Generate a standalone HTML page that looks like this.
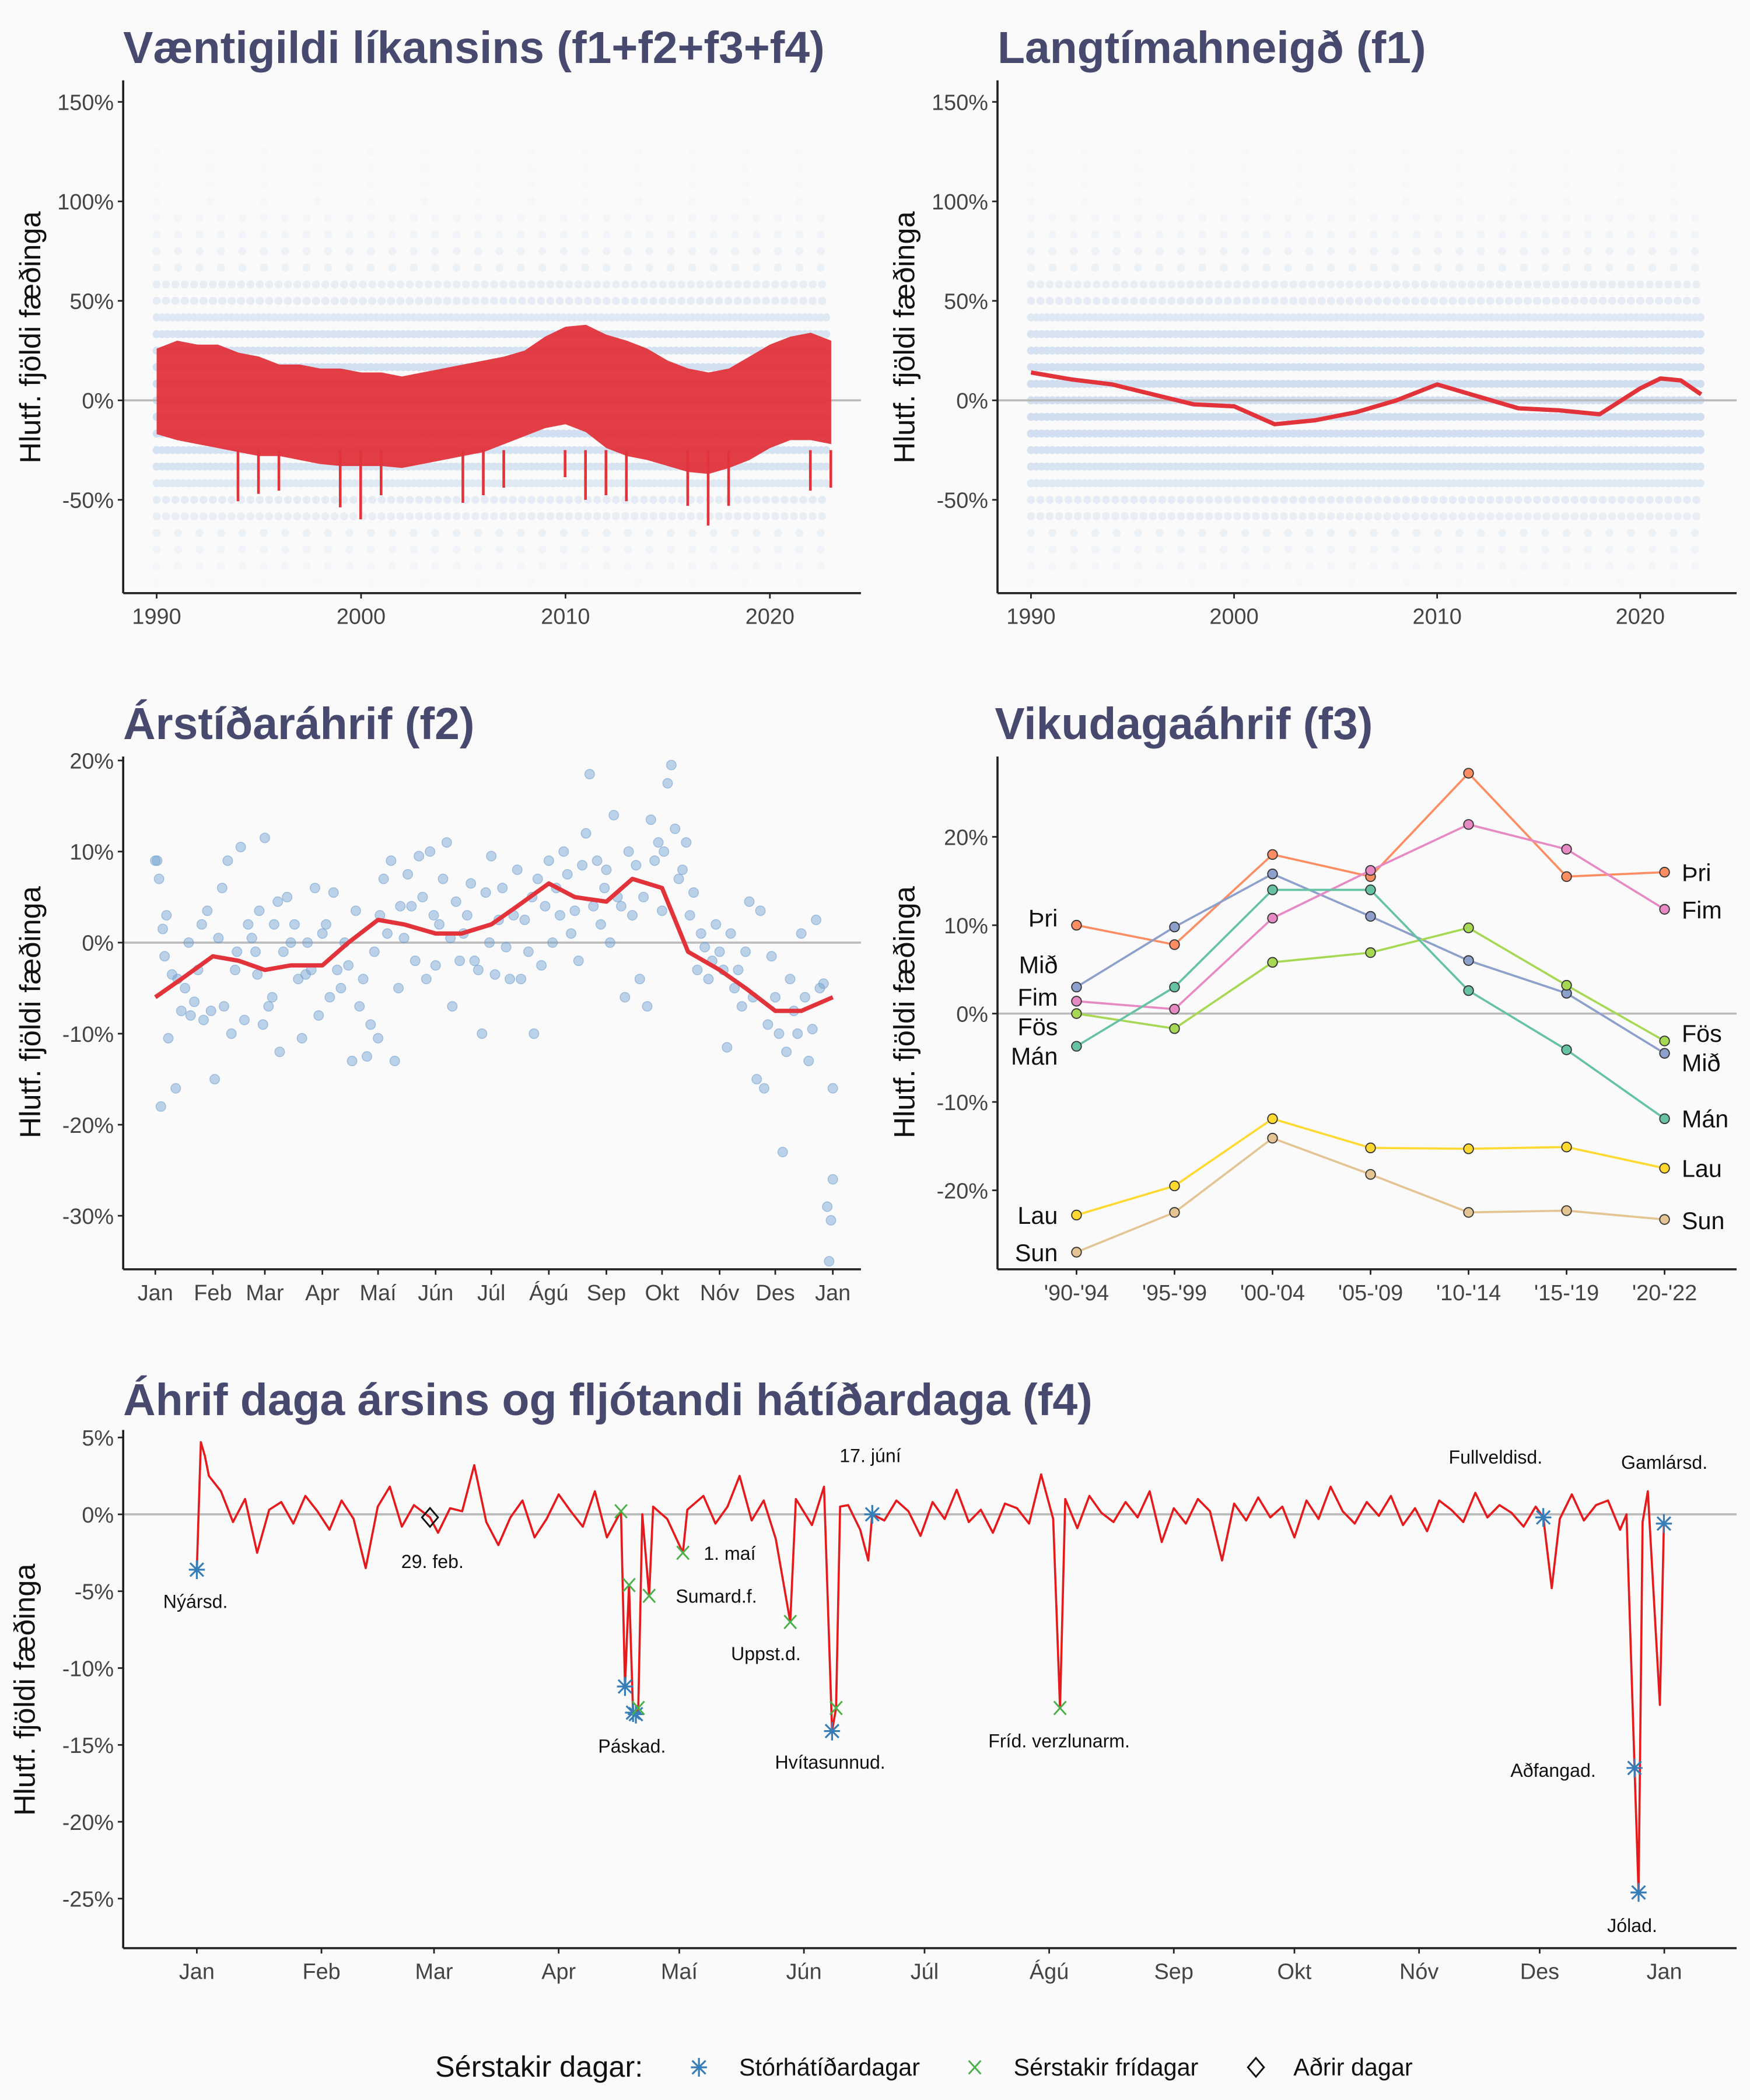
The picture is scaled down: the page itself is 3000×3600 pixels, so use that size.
<!DOCTYPE html>
<html><head><meta charset="utf-8"><style>
html,body{margin:0;padding:0;background:#fafafa}
svg{display:block}
text{font-family:"Liberation Sans",sans-serif}
.tt{font-weight:bold;fill:#474a6e;font-size:33.5px}
.tk{font-size:16.5px;fill:#444}
.yt{font-size:22px;fill:#111}
.an{font-size:14px;fill:#111}
</style></head><body>
<svg id="c" width="3000" height="3600" viewBox="0 0 1307 1568.4" preserveAspectRatio="none" xmlns="http://www.w3.org/2000/svg">
<rect width="1307" height="1569" fill="#fafafa"/>
<g id="root"></g>
</svg>
<script>
// ---------- data ----------
const dotLevels=[-91.7,-83.3,-75,-66.7,-58.3,-50,-41.7,-33.3,-25,-16.7,-8.3,0,8.3,16.7,25,33.3,41.7,50,58.3,66.7,75,83.3,91.7,100,108.3,116.7,125,133.3,141.7,150,158.3];
const dotDensity=[0.02,0.04,0.06,0.08,0.1,0.13,0.16,0.2,0.22,0.24,0.25,0.25,0.25,0.24,0.22,0.2,0.16,0.13,0.1,0.08,0.07,0.05,0.04,0.03,0.02,0.02,0.015,0.01,0.01,0.01,0.005];
const bandYears=[1990,1991,1992,1993,1994,1995,1996,1997,1998,1999,2000,2001,2002,2003,2004,2005,2006,2007,2008,2009,2010,2011,2012,2013,2014,2015,2016,2017,2018,2019,2020,2021,2022,2023];
const bandUpper=[26,30,28,28,24,22,18,18,16,16,14,14,12,14,16,18,20,22,25,32,37,38,33,30,26,20,16,14,16,22,28,32,34,30];
const bandLower=[-17,-20,-22,-24,-26,-28,-28,-30,-32,-33,-33,-33,-34,-32,-30,-28,-26,-22,-18,-14,-12,-16,-24,-28,-30,-33,-36,-37,-34,-30,-24,-20,-20,-22];
const spikeYears=[1993,1994,1995,1998,1999,2000,2004,2005,2006,2009,2010,2011,2012,2015,2016,2017,2021,2022];
const spikeValues=[-50.7,-47,-45.4,-53.8,-59.8,-47.7,-51.5,-47.7,-43.9,-38.6,-50,-47.7,-50.7,-53,-62.9,-53,-45.4,-43.9];
const trendYears=[1990,1992,1994,1996,1998,2000,2002,2004,2006,2008,2010,2012,2014,2016,2018,2020,2021,2022,2023];
const trendValues=[14,10.5,8,3,-2,-3,-12,-10,-6,0,8,2,-4,-5,-7,6,11,10,3];
const seasonDays=[1,15,32,46,60,74,91,105,121,135,152,166,182,196,213,227,244,258,274,288,305,319,335,349,366];
const seasonValues=[-6,-4,-1.5,-2,-3,-2.5,-2.5,0,2.5,2,1,1,2,4,6.5,5,4.5,7,6,-1,-3,-5,-7.5,-7.5,-6];
const seasonPoints=[[1,9],[2,9],[3,7],[4,-18],[5,1.5],[6,-1.5],[7,3],[8,-10.5],[10,-3.5],[12,-16],[13,-4],[15,-7.5],[17,-5],[19,0],[20,-8],[22,-6.5],[24,-3],[26,2],[27,-8.5],[29,3.5],[31,-7.5],
[33,-15],[35,0.5],[37,6],[38,-7],[40,9],[42,-10],[44,-3],[45,-1],[47,10.5],[49,-8.5],[51,2],[53,0.5],[55,-1],[56,-3.5],[57,3.5],[59,-9],
[60,11.5],[62,-7],[64,-6],[65,2],[67,4.5],[68,-12],[70,-1],[72,5],[74,0],[76,2],[78,-4],[80,-10.5],[82,-3.5],[83,0],[85,-3],[87,6],[89,-8],
[91,1],[93,2],[95,-6],[97,5.5],[99,-3],[101,-5],[103,0],[105,-2.5],[107,-13],[109,3.5],[111,-7],[113,-4],[115,-12.5],[117,-9],[119,-1],
[121,-10.5],[122,3],[124,7],[126,1],[128,9],[130,-13],[132,-5],[133,4],[135,0.5],[137,7.5],[139,4],[141,-2],[143,9.5],[145,5],[147,-4],[149,10],[151,3],
[152,-2.5],[154,2],[156,7],[158,11],[160,0.5],[161,-7],[163,4.5],[165,-2],[167,1],[169,3],[171,6.5],[173,-2],[175,-3],[177,-10],[179,5.5],[181,0],
[182,9.5],[184,-3.5],[186,2.5],[188,6],[190,-0.5],[192,-4],[194,3],[196,8],[198,-4],[200,2.5],[202,-1],[204,5],[205,-10],[207,7],[209,-2.5],[211,4],
[213,9],[215,0],[217,6],[219,3],[221,10],[223,7.5],[225,1],[227,3.5],[229,-2],[231,8.5],[233,12],[235,18.5],[237,4],[239,9],[241,2],[243,6],
[244,8],[246,0],[248,14],[250,5],[252,4],[254,-6],[256,10],[258,3],[260,8.5],[262,-4],[264,5],[266,-7],[268,13.5],[270,9],[272,11],[274,3.5],
[275,10],[277,17.5],[279,19.5],[281,12.5],[283,7],[285,8],[287,11],[289,3],[291,5.5],[293,-3],[295,1],[297,-0.5],[299,-4],[301,-2],[303,2],
[305,-1],[307,-3],[309,-11.5],[311,1],[313,-5],[315,-3],[317,-7],[319,-1],[321,4.5],[323,-6],[325,-15],[327,3.5],[329,-16],[331,-9],[333,-1.5],
[335,-6],[337,-10],[339,-23],[341,-12],[343,-4],[345,-7.5],[347,-10],[349,1],[351,-6],[353,-13],[355,-9.5],[357,2.5],[359,-5],[361,-4.5],[363,-29],[364,-35],[365,-30.5],[366,-26],[366,-16]];
const weekCats=["'90-'94","'95-'99","'00-'04","'05-'09","'10-'14","'15-'19","'20-'22"];
const weekNames=["Þri","Mið","Fim","Fös","Mán","Lau","Sun"];
const weekColors=["#fc8d62","#8da0cb","#e78ac3","#a6d854","#66c2a5","#ffd92f","#e5c494"];
const weekThu=[10,7.8,18,15.5,27.2,15.5,16];
const weekWed=[3,9.8,15.8,11,6,2.3,-4.5];
const weekFri=[1.4,0.5,10.8,16.2,21.4,18.6,11.8];
const weekSat=[0,-1.7,5.8,6.9,9.7,3.2,-3.1];
const weekMon=[-3.7,3,14,14,2.6,-4.1,-11.9];
const weekLau=[-22.8,-19.5,-11.9,-15.2,-15.3,-15.1,-17.5];
const weekSun=[-27,-22.5,-14.1,-18.2,-22.5,-22.3,-23.3];
const weekSeries=[weekThu,weekWed,weekFri,weekSat,weekMon,weekLau,weekSun];
const weekLeftLabelY=[686,721,745,767,789,908,936];
const weekRightLabelY=[652,794,680,772,836,873,912];
const dayBaseline=[0.5,2.8,1.5,-0.5,1,-2.5,0.3,0.8,-0.6,1.2,0.2,-1,0.9,-0.3,-3.5,0.5,1.8,-0.8,0.6,1.5,-1.2,0.4,0.2,3.2,-0.5,-2,-0.2,0.9,-1.5,-0.3,1.3,0.2,-0.8,1.5,-1.5,0.9,0.4,-0.6,1.1,-0.3,0.8,-1.3,1.2,-0.6,0.5,2.5,-0.4,0.9,-1.6,1.1,0.3,-0.7,1.8,-0.2,0.6,-1,1.3,-0.4,0.9,0.2,-1.4,0.8,-0.3,1.6,-0.5,0.3,-1.2,0.7,0.4,-0.6,2.6,-0.3,0.5,-0.9,1.2,0.1,-0.5,0.8,-0.2,1.5,-1.8,0.4,-0.6,1,0.2,-3,0.7,-0.4,1.1,-0.2,0.5,-1.5,0.9,-0.3,1.8,0.2,-0.6,0.8,-0.1,1.2,-0.7,0.4,-1.1,0.9,0.3,-0.5,1.4,-0.2,0.6,0.1,-0.8,0.5,0.7,-0.3,1.3,-0.4,0.6,0.9,-1,0.3,0.5,1.1];
const specialDays=[1,2,3,4,59,106.5,107.5,108.5,109.5,110.2,110.8,111.8,113.5,114.5,121.9,123,148.6,150,159,160,161,168,169,215.7,217,335.9,338,356.6,358.6,359.6,360.6,361.9,364.9,365.9];
const specialValues=[-3.6,4.7,3.8,2.5,-0.2,0.2,-11.2,-4.6,-12.9,-13,-12.6,0,-5.3,0.5,-2.5,0.3,-7,1,-14.1,-12.6,0.5,-3,0,-12.6,1,-0.2,-4.8,0,-16.5,-24.6,-0.5,1.5,-12.4,-0.6];
const starDays=[1,107.5,109.5,110.2,159,169,335.9,358.6,359.6,365.9];
const starValues=[-3.6,-11.2,-12.9,-13,-14.1,0,-0.2,-16.5,-24.6,-0.6];
const crossDays=[106.5,108.5,110.8,113.5,121.9,148.6,160,215.7];
const crossValues=[0.2,-4.6,-12.6,-5.3,-2.5,-7,-12.6,-12.6];
const diamondDays=[59];
const diamondValues=[-0.2];
const noteText=["Nýársd.","29. feb.","1. maí","Sumard.f.","Uppst.d.","Páskad.","Hvítasunnud.","17. júní","Fríd. verzlunarm.","Fullveldisd.","Gamlársd.","Aðfangad.","Jólad."];
const noteX=[146,323,545,535,572,472,620,650,791,1117,1243,1160,1219];
const noteY=[1201,1171,1165,1197,1240,1309,1321,1092,1305,1093,1097,1327,1443];
const monthLabels=["Jan","Feb","Mar","Apr","Maí","Jún","Júl","Ágú","Sep","Okt","Nóv","Des","Jan"];
const monthStart=[1,32,60,91,121,152,182,213,244,274,305,335,366];

// ---------- helpers ----------
const NS="http://www.w3.org/2000/svg";
const root=document.getElementById('root');
function mk(tag,attrs,parent){const e=document.createElementNS(NS,tag);for(const k in attrs)e.setAttribute(k,attrs[k]);(parent||root).appendChild(e);return e;}
function txt(s,x,y,cls,anchor,parent){const t=mk('text',{x:x,y:y,class:cls,'text-anchor':anchor||'start'},parent);t.textContent=s;return t;}
function lin(d0,d1,r0,r1){return v=>r0+(v-d0)/(d1-d0)*(r1-r0);}
function axes(g,x0,x1,y0,y1){
  const a=mk('line',{x1:x0,y1:y0,x2:x0,y2:y1,stroke:'#222','stroke-width':1.6},g);
  
  
  const b=mk('line',{x1:x0,y1:y1,x2:x1,y2:y1,stroke:'#222','stroke-width':1.6},g);
  
  
}
function yTick(g,x0,y,label){mk('line',{x1:x0-4,y1:y,x2:x0,y2:y,stroke:'#222','stroke-width':1.2},g);txt(label,x0-7,y+6,'tk','end',g);}
function xTick(g,x,y1,label){mk('line',{x1:x,y1:y1,x2:x,y2:y1+4,stroke:'#222','stroke-width':1.2},g);txt(label,x,y1+23,'tk','middle',g);}
function zero(g,x0,x1,y){const z=mk('line',{x1:x0,y1:y,x2:x1,y2:y,stroke:'#bbb','stroke-width':1.6},g);
  
  }
function yTitle(g,x,y,s){const t=txt(s,0,0,'yt','middle',g);t.setAttribute('transform',`translate(${x},${y}) rotate(-90)`);
  
  }
function title(g,s,x,y){const t=txt(s,x,y,'tt','start',g);
  
  }
function pct(v){return v+'%';}

// ---------- panels 1 & 2 ----------
function yearPanel(name,x0,x1,yr1990x,yr2020x,withBand){
  const g=mk('g',{});
  
  
  const X=lin(1990,2020,yr1990x,yr2020x), Y=lin(0,50,299,224.7);
  const dots=mk('g',{},g);
  
  
  dotLevels.forEach((lv,i)=>{
    const d=dotDensity[i];
    const gap=d>0.15?4:d>0.08?7:d>0.03?16:40;
    const l=mk('line',{x1:X(1990),x2:X(2023),y1:Y(lv),y2:Y(lv),stroke:'#7aa6dc','stroke-opacity':Math.min(0.6,d*1.3),'stroke-width':6,'stroke-linecap':'round','stroke-dasharray':'0 '+gap},dots);
    
    
  });
  zero(g,x0,x1,Y(0));
  if(withBand){
    let pts=bandYears.map((y,i)=>X(y)+','+Y(bandUpper[i]));
    pts=pts.concat(bandYears.slice().reverse().map((y,i)=>X(y)+','+Y(bandLower[bandYears.length-1-i])));
    const p=mk('polygon',{points:pts.join(' '),fill:'#e2333b','fill-opacity':0.95},g);
    
    
    spikeYears.forEach((y,i)=>{
      const s=mk('line',{x1:X(y+0.98),x2:X(y+0.98),y1:Y(-25),y2:Y(spikeValues[i]),stroke:'#e2333b','stroke-width':2},g);
      
      
    });
  } else {
    const d=trendYears.map((y,i)=>(i?'L':'M')+X(y)+','+Y(trendValues[i])).join(' ');
    const p=mk('path',{d:d,fill:'none',stroke:'#e2333b','stroke-width':3.2,'stroke-linejoin':'round'},g);
    
    
  }
  axes(g,x0,x1,60,443);
  [150,100,50,0,-50].forEach(v=>yTick(g,x0,Y(v),pct(v)));
  [1990,2000,2010,2020].forEach(y=>xTick(g,X(y),443,y));
  yTitle(g,x0-62,252,'Hlutf. fjöldi fæðinga');
}
yearPanel('panel-total',92,643,117,575,true);
title(root,'Væntigildi líkansins (f1+f2+f3+f4)',92,47);
yearPanel('panel-trend',745,1297,770,1225,false);
title(root,'Langtímahneigð (f1)',745,47);

// ---------- panel 3 ----------
(function(){
  const g=mk('g',{});
  
  
  const X=lin(1,366,116,622), Y=lin(0,10,704,636);
  zero(g,92,643,Y(0));
  seasonPoints.forEach(p=>{
    const c=mk('circle',{cx:X(p[0]),cy:Y(p[1]),r:3.6,fill:'#6f9fd0','fill-opacity':0.45,stroke:'#6f9fd0','stroke-opacity':0.6,'stroke-width':0.6},g);
    
    
  });
  const d=seasonDays.map((x,i)=>(i?'L':'M')+X(x)+','+Y(seasonValues[i])).join(' ');
  const p=mk('path',{d:d,fill:'none',stroke:'#e2333b','stroke-width':3.2,'stroke-linejoin':'round'},g);
  
  
  axes(g,92,643,565,948);
  [20,10,0,-10,-20,-30].forEach(v=>yTick(g,92,Y(v),pct(v)));
  monthStart.forEach((m,i)=>xTick(g,X(m),948,monthLabels[i]));
  yTitle(g,30,756,'Hlutf. fjöldi fæðinga');
  title(root,'Árstíðaráhrif (f2)',92,552);
})();

// ---------- panel 4 ----------
(function(){
  const g=mk('g',{});
  
  
  const X=i=>804+i*73.2, Y=lin(0,10,757,691);
  zero(g,745,1297,Y(0));
  weekSeries.forEach((s,k)=>{
    const d=s.map((v,i)=>(i?'L':'M')+X(i)+','+Y(v)).join(' ');
    const p=mk('path',{d:d,fill:'none',stroke:weekColors[k],'stroke-width':1.6},g);
    
    
    s.forEach((v,i)=>{
      const c=mk('circle',{cx:X(i),cy:Y(v),r:3.6,fill:weekColors[k],stroke:'#333','stroke-width':0.8},g);
      
      
    });
    txt(weekNames[k],790,weekLeftLabelY[k]+6,'yt','end',g).setAttribute('style','font-size:18px');
    txt(weekNames[k],1256,weekRightLabelY[k]+6,'yt','start',g).setAttribute('style','font-size:18px');
  });
  axes(g,745,1297,565,948);
  [20,10,0,-10,-20].forEach(v=>yTick(g,745,Y(v),pct(v)));
  weekCats.forEach((c,i)=>xTick(g,X(i),948,c));
  yTitle(g,683,756,'Hlutf. fjöldi fæðinga');
  title(root,'Vikudagaáhrif (f3)',743,552);
})();

// ---------- panel 5 ----------
(function(){
  const g=mk('g',{});
  
  
  const X=lin(1,366,147,1243), Y=lin(0,5,1131,1073.6);
  zero(g,92,1297,Y(0));
  let nodes=[];
  dayBaseline.forEach((v,i)=>{const d=1+i*3; if(!specialDays.some(s=>Math.abs(s-d)<1.6)) nodes.push([d,v]);});
  specialDays.forEach((d,i)=>nodes.push([d,specialValues[i]]));
  nodes.sort((a,b)=>a[0]-b[0]);
  const d=nodes.map((n,i)=>(i?'L':'M')+X(n[0])+','+Y(n[1])).join(' ');
  const p=mk('path',{d:d,fill:'none',stroke:'#e41a1c','stroke-width':1.6,'stroke-linejoin':'round'},g);
  
  
  starDays.forEach((dd,i)=>{
    const cx=X(dd),cy=Y(starValues[i]);
    const s=mk('path',{d:`M${cx-6},${cy}H${cx+6}M${cx},${cy-7}V${cy+7}M${cx-5},${cy-5}L${cx+5},${cy+5}M${cx-5},${cy+5}L${cx+5},${cy-5}`,stroke:'#377eb8','stroke-width':1.4},g);
    
    
  });
  crossDays.forEach((dd,i)=>{
    const cx=X(dd),cy=Y(crossValues[i]);
    const s=mk('path',{d:`M${cx-4.5},${cy-5}L${cx+4.5},${cy+5}M${cx-4.5},${cy+5}L${cx+4.5},${cy-5}`,stroke:'#4daf4a','stroke-width':1.3},g);
    
    
  });
  diamondDays.forEach((dd,i)=>{
    const cx=X(dd),cy=Y(diamondValues[i]);
    const s=mk('path',{d:`M${cx},${cy-7}L${cx+6},${cy}L${cx},${cy+7}L${cx-6},${cy}Z`,fill:'none',stroke:'#111','stroke-width':1.3},g);
    
    
  });
  noteText.forEach((s,i)=>{const t=txt(s,noteX[i],noteY[i],'an','middle',g);
    
    });
  axes(g,92,1297,1068,1455);
  [5,0,-5,-10,-15,-20,-25].forEach(v=>yTick(g,92,Y(v),pct(v)));
  monthStart.forEach((m,i)=>xTick(g,X(m),1455,monthLabels[i]));
  yTitle(g,26,1262,'Hlutf. fjöldi fæðinga');
  title(root,'Áhrif daga ársins og fljótandi hátíðardaga (f4)',92,1057);
})();

// ---------- legend ----------
(function(){
  const g=mk('g',{});
  
  
  txt('Sérstakir dagar:',325,1551,'yt','start',g);
  let cx=522,cy=1544;
  mk('path',{d:`M${cx-6},${cy}H${cx+6}M${cx},${cy-7}V${cy+7}M${cx-5},${cy-5}L${cx+5},${cy+5}M${cx-5},${cy+5}L${cx+5},${cy-5}`,stroke:'#377eb8','stroke-width':1.4},g);
  txt('Stórhátíðardagar',552,1550,'yt','start',g).setAttribute('style','font-size:18px');
  cx=728;
  mk('path',{d:`M${cx-4.5},${cy-5}L${cx+4.5},${cy+5}M${cx-4.5},${cy+5}L${cx+4.5},${cy-5}`,stroke:'#4daf4a','stroke-width':1.3},g);
  txt('Sérstakir frídagar',757,1550,'yt','start',g).setAttribute('style','font-size:18px');
  cx=938;
  mk('path',{d:`M${cx},${cy-7}L${cx+6},${cy}L${cx},${cy+7}L${cx-6},${cy}Z`,fill:'none',stroke:'#111','stroke-width':1.3},g);
  txt('Aðrir dagar',966,1550,'yt','start',g).setAttribute('style','font-size:18px');
})();
</script>
</body></html>
